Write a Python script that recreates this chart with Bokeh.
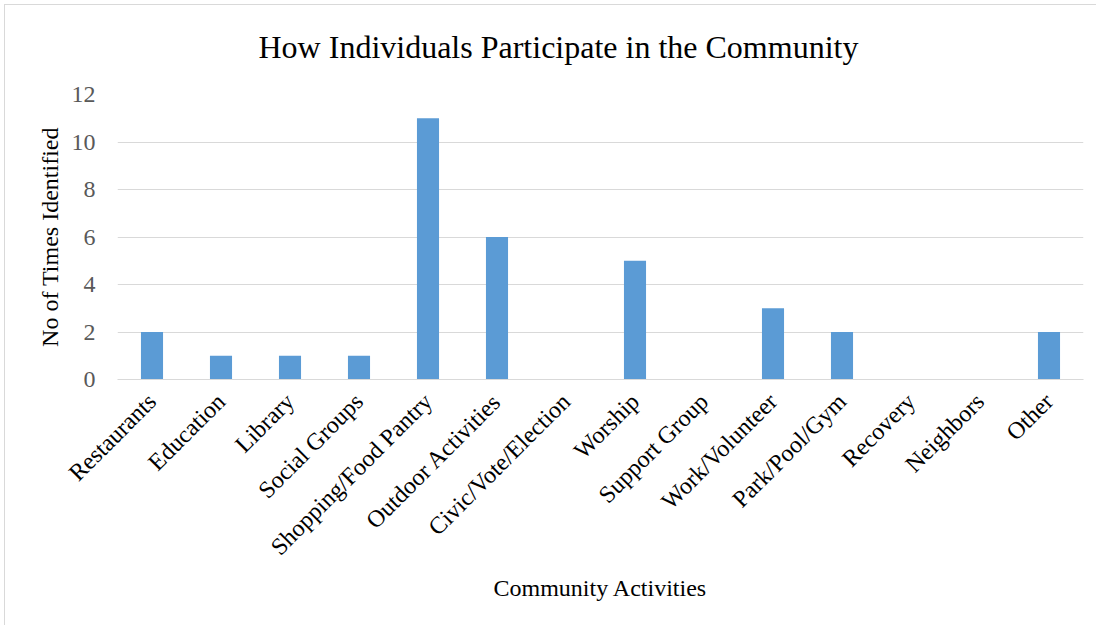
from bokeh.plotting import figure
from bokeh.models import FactorRange, Range1d, SingleIntervalTicker, ColumnDataSource
from bokeh.embed import file_html
from bokeh.resources import INLINE
import math

categories = ["Restaurants", "Education", "Library", "Social Groups", "Shopping/Food Pantry",
              "Outdoor Activities", "Civic/Vote/Election", "Worship", "Support Group",
              "Work/Volunteer", "Park/Pool/Gym", "Recovery", "Neighbors", "Other"]
counts = [2, 1, 1, 1, 11, 6, 0, 5, 0, 3, 2, 0, 0, 2]

title_text = "How Individuals Participate in the Community"
x_title = "Community Activities"
y_title = "No of Times Identified"

FONT = "Liberation Serif"

src = ColumnDataSource(data=dict(cat=categories, val=counts))

p = figure(x_range=FactorRange(*categories, range_padding=0), y_range=Range1d(0, 12),
           width=1096, height=625, output_backend="svg", toolbar_location=None,
           title=title_text, min_border_left=117, min_border_right=13,
           min_border_top=94, min_border_bottom=246)

p.vbar(x="cat", top="val", width=0.32, source=src, fill_color="#5b9bd5", line_color=None)

p.title.align = "left"
p.title.offset = 141
p.title.vertical_align = "top"
p.title.standoff = 56
p.title.text_font = FONT
p.title.text_font_size = "32px"
p.title.text_font_style = "normal"
p.title.text_color = "#000000"

p.outline_line_color = None
p.background_fill_color = "white"
p.border_fill_color = "white"
p.border_fill_alpha = 0
p.styles = {
    "background": "linear-gradient(#d9d9d9, #d9d9d9) 4px 4px / 1px 100% no-repeat, "
                  "linear-gradient(#d9d9d9, #d9d9d9) 4px 4px / 100% 1px no-repeat, white"
}

p.xgrid.grid_line_color = None
p.ygrid.grid_line_color = "#d9d9d9"
p.ygrid.grid_line_width = 1

p.yaxis.ticker = SingleIntervalTicker(interval=2)
p.yaxis.axis_line_color = None
p.yaxis.major_tick_line_color = None
p.yaxis.minor_tick_line_color = None
p.yaxis.major_label_text_font = FONT
p.yaxis.major_label_text_font_size = "24px"
p.yaxis.major_label_text_color = "#595959"
p.yaxis.major_label_standoff = 16
p.yaxis.axis_label = y_title
p.yaxis.axis_label_text_font = FONT
p.yaxis.axis_label_text_font_size = "24px"
p.yaxis.axis_label_text_font_style = "normal"
p.yaxis.axis_label_text_color = "#000000"
p.yaxis.axis_label_standoff = 6

p.xaxis.axis_line_color = "#d9d9d9"
p.xaxis.axis_line_width = 1
p.xaxis.major_tick_line_color = None
p.xaxis.minor_tick_line_color = None
p.xaxis.major_label_orientation = math.pi / 4
p.xaxis.major_label_text_font = FONT
p.xaxis.major_label_text_font_size = "24px"
p.xaxis.major_label_text_color = "#000000"
p.xaxis.major_label_standoff = 12
p.xaxis.axis_label = x_title
p.xaxis.axis_label_text_font = FONT
p.xaxis.axis_label_text_font_size = "24px"
p.xaxis.axis_label_text_font_style = "normal"
p.xaxis.axis_label_text_color = "#000000"
p.xaxis.axis_label_standoff = 3

open("out.html", "w").write(file_html(p, INLINE))
